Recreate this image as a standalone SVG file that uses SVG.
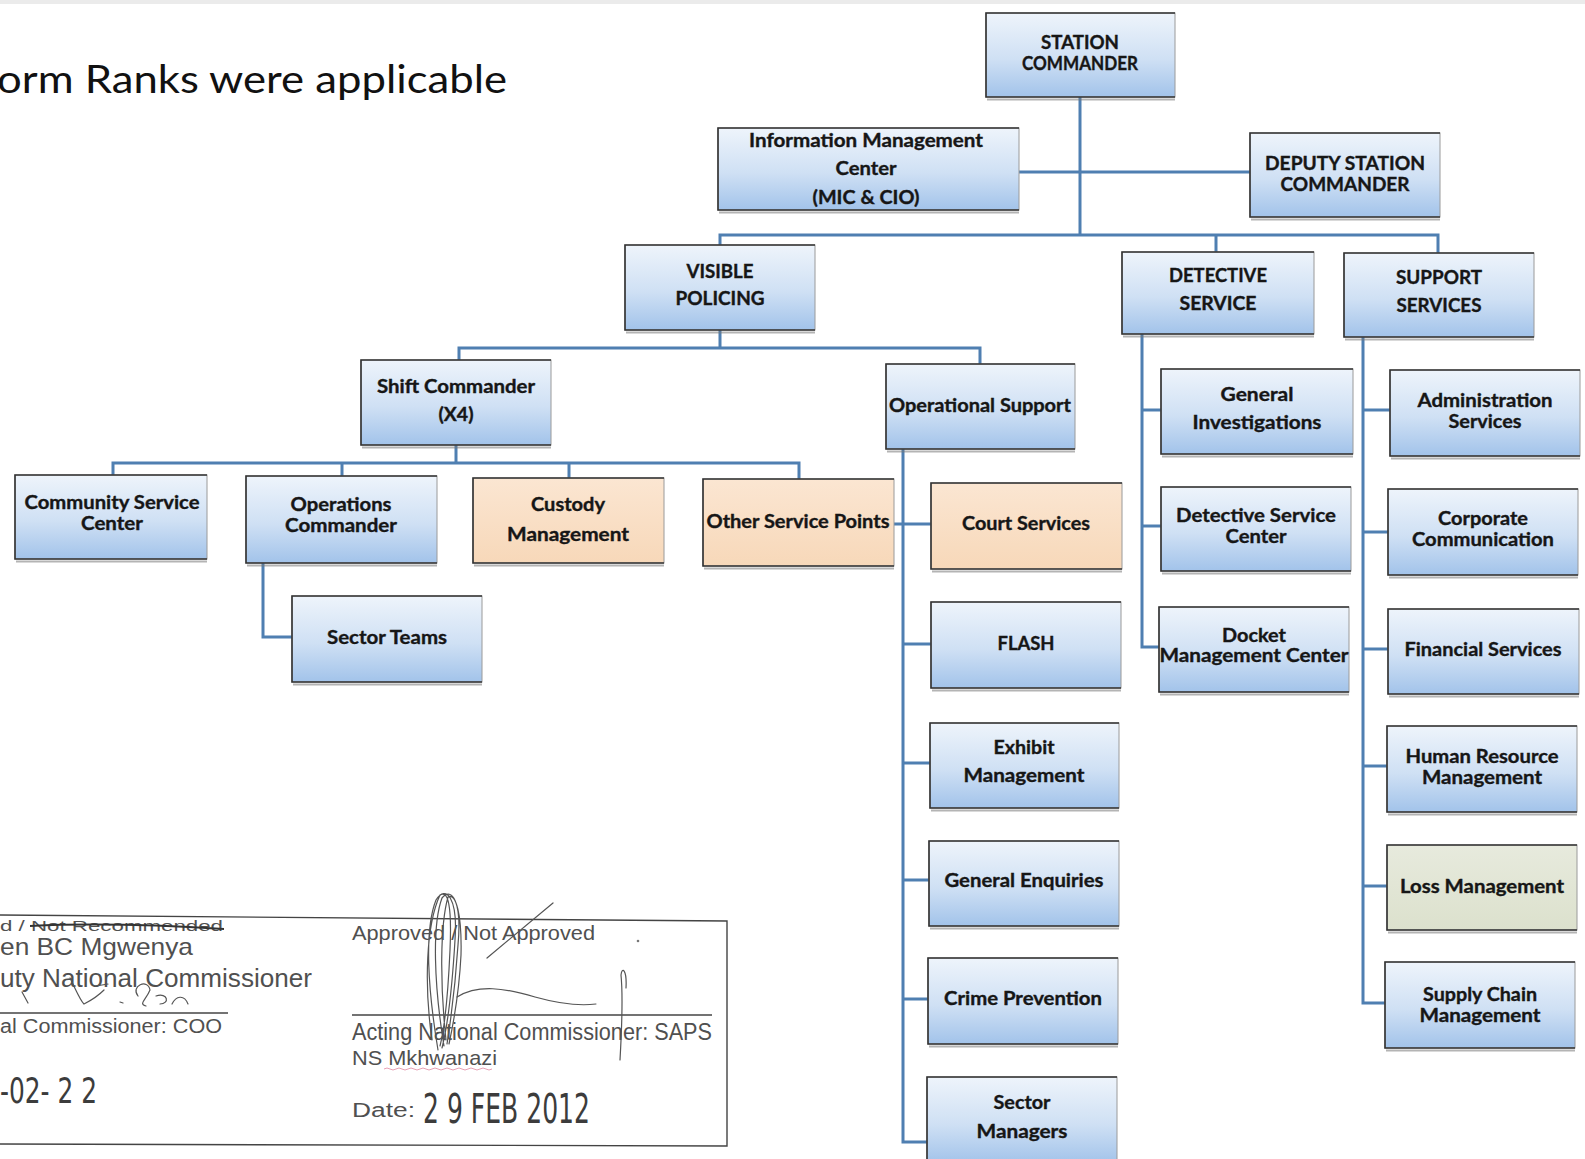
<svg xmlns="http://www.w3.org/2000/svg" width="1585" height="1159" viewBox="0 0 1585 1159">
  <style>
    .lbl { font-family: Lato, "Open Sans", "Liberation Sans", sans-serif; font-weight: 700; font-size: 18px; fill: #161616; stroke: #161616; stroke-width: 0.35px; text-anchor: middle; }
    .box { fill: url(#blue); stroke: #9a9a9a; stroke-width: 1; }
    .peach { fill: url(#peach); }
    .sage { fill: url(#sage); }
    .rim { fill: none; stroke: #333; stroke-width: 1.6; }
    .shade { fill: none; stroke: #777; stroke-width: 2.2; opacity: 0.55; }
    .wire { fill: none; stroke: #4f7fb1; stroke-width: 3; }
    .ink { font-family: "Liberation Sans", Arial, sans-serif; fill: #505050; }
    .stamp { font-family: "DejaVu Sans Condensed", "Liberation Sans", sans-serif; fill: #3c3c3c; }
    .pen { fill: none; stroke: #555; stroke-width: 1.2; stroke-linecap: round; }
  </style>
  <defs>
    <linearGradient id="blue" x1="0" y1="0" x2="0" y2="1">
      <stop offset="0" stop-color="#eef4fb"/>
      <stop offset="0.55" stop-color="#cfe0f4"/>
      <stop offset="1" stop-color="#a2c3ea"/>
    </linearGradient>
    <linearGradient id="peach" x1="0" y1="0" x2="0" y2="1">
      <stop offset="0" stop-color="#fbe6d2"/>
      <stop offset="1" stop-color="#f7d8b9"/>
    </linearGradient>
    <linearGradient id="sage" x1="0" y1="0" x2="0" y2="1">
      <stop offset="0" stop-color="#e7eadd"/>
      <stop offset="1" stop-color="#dce1cd"/>
    </linearGradient>
  </defs>

  <rect x="0" y="0" width="1585" height="1159" fill="#ffffff"/>
  <rect x="0" y="0" width="1585" height="4" fill="#ebebeb"/>

  <!-- heading, cut at the left edge -->
  <text x="-3" y="93" font-family="Lato, 'Open Sans', sans-serif" font-size="38" fill="#111" textLength="510" lengthAdjust="spacingAndGlyphs">orm Ranks were applicable</text>

  <!-- reporting lines -->
  <g id="connectors">
    <path class="wire" d="M1080,97 V235"/>
    <path class="wire" d="M1019,172 H1250"/>
    <path class="wire" d="M720,245 V235 H1438 V253"/>
    <path class="wire" d="M1216,235 V252"/>
    <path class="wire" d="M720,330 V348"/>
    <path class="wire" d="M459,360 V348 H980 V364"/>
    <path class="wire" d="M456,445 V463"/>
    <path class="wire" d="M113,475 V463 H799 V479"/>
    <path class="wire" d="M342,463 V476"/>
    <path class="wire" d="M569,463 V478"/>
    <path class="wire" d="M263,563 V637 H292"/>
    <path class="wire" d="M903,449 V1142 H927"/>
    <path class="wire" d="M894,524 H931"/>
    <path class="wire" d="M903,644 H931"/>
    <path class="wire" d="M903,763 H930"/>
    <path class="wire" d="M903,880 H929"/>
    <path class="wire" d="M903,999 H928"/>
    <path class="wire" d="M1142,334 V647 H1159"/>
    <path class="wire" d="M1142,410 H1161"/>
    <path class="wire" d="M1142,526 H1161"/>
    <path class="wire" d="M1363,337 V1003 H1385"/>
    <path class="wire" d="M1363,410 H1390"/>
    <path class="wire" d="M1363,532 H1388"/>
    <path class="wire" d="M1363,649 H1388"/>
    <path class="wire" d="M1363,766 H1387"/>
    <path class="wire" d="M1363,886 H1387"/>
  </g>

  <g id="n-station">
    <rect class="box" x="986" y="13" width="189" height="84"/>
    <path class="rim" d="M1175,13 H986 V97 H1175"/>
    <path class="shade" d="M987,99.5 H1175"/>
    <text class="lbl" x="1080" y="49" textLength="78" lengthAdjust="spacingAndGlyphs">STATION</text>
    <text class="lbl" x="1080" y="70" textLength="116" lengthAdjust="spacingAndGlyphs">COMMANDER</text>
  </g>

  <g id="n-imc">
    <rect class="box" x="718" y="128" width="301" height="82"/>
    <path class="rim" d="M1019,128 H718 V210 H1019"/>
    <path class="shade" d="M719,212.5 H1019"/>
    <text class="lbl" x="866" y="147" textLength="234" lengthAdjust="spacingAndGlyphs">Information Management</text>
    <text class="lbl" x="866" y="175" textLength="61" lengthAdjust="spacingAndGlyphs">Center</text>
    <text class="lbl" x="866" y="204" textLength="107" lengthAdjust="spacingAndGlyphs">(MIC &amp; CIO)</text>
  </g>

  <g id="n-deputy">
    <rect class="box" x="1250" y="133" width="190" height="84"/>
    <path class="rim" d="M1440,133 H1250 V217 H1440"/>
    <path class="shade" d="M1251,219.5 H1440"/>
    <text class="lbl" x="1345" y="170" textLength="160" lengthAdjust="spacingAndGlyphs">DEPUTY STATION</text>
    <text class="lbl" x="1345" y="191" textLength="129" lengthAdjust="spacingAndGlyphs">COMMANDER</text>
  </g>

  <g id="n-visible">
    <rect class="box" x="625" y="245" width="190" height="85"/>
    <path class="rim" d="M815,245 H625 V330 H815"/>
    <path class="shade" d="M626,332.5 H815"/>
    <text class="lbl" x="720" y="278" textLength="67" lengthAdjust="spacingAndGlyphs">VISIBLE</text>
    <text class="lbl" x="720" y="305" textLength="89" lengthAdjust="spacingAndGlyphs">POLICING</text>
  </g>

  <g id="n-detective">
    <rect class="box" x="1122" y="252" width="192" height="82"/>
    <path class="rim" d="M1314,252 H1122 V334 H1314"/>
    <path class="shade" d="M1123,336.5 H1314"/>
    <text class="lbl" x="1218" y="282" textLength="98" lengthAdjust="spacingAndGlyphs">DETECTIVE</text>
    <text class="lbl" x="1218" y="310" textLength="77" lengthAdjust="spacingAndGlyphs">SERVICE</text>
  </g>

  <g id="n-support">
    <rect class="box" x="1344" y="253" width="190" height="84"/>
    <path class="rim" d="M1534,253 H1344 V337 H1534"/>
    <path class="shade" d="M1345,339.5 H1534"/>
    <text class="lbl" x="1439" y="284" textLength="86" lengthAdjust="spacingAndGlyphs">SUPPORT</text>
    <text class="lbl" x="1439" y="312" textLength="85" lengthAdjust="spacingAndGlyphs">SERVICES</text>
  </g>

  <g id="n-shift">
    <rect class="box" x="361" y="360" width="190" height="85"/>
    <path class="rim" d="M551,360 H361 V445 H551"/>
    <path class="shade" d="M362,447.5 H551"/>
    <text class="lbl" x="456" y="393" textLength="158" lengthAdjust="spacingAndGlyphs">Shift Commander</text>
    <text class="lbl" x="456" y="421" textLength="35" lengthAdjust="spacingAndGlyphs">(X4)</text>
  </g>

  <g id="n-opsupport">
    <rect class="box" x="886" y="364" width="189" height="85"/>
    <path class="rim" d="M1075,364 H886 V449 H1075"/>
    <path class="shade" d="M887,451.5 H1075"/>
    <text class="lbl" x="980" y="412" textLength="182" lengthAdjust="spacingAndGlyphs">Operational Support</text>
  </g>

  <g id="n-geninv">
    <rect class="box" x="1161" y="369" width="192" height="85"/>
    <path class="rim" d="M1353,369 H1161 V454 H1353"/>
    <path class="shade" d="M1162,456.5 H1353"/>
    <text class="lbl" x="1257" y="401" textLength="73" lengthAdjust="spacingAndGlyphs">General</text>
    <text class="lbl" x="1257" y="429" textLength="129" lengthAdjust="spacingAndGlyphs">Investigations</text>
  </g>

  <g id="n-admin">
    <rect class="box" x="1390" y="370" width="190" height="86"/>
    <path class="rim" d="M1580,370 H1390 V456 H1580"/>
    <path class="shade" d="M1391,458.5 H1580"/>
    <text class="lbl" x="1485" y="407" textLength="135" lengthAdjust="spacingAndGlyphs">Administration</text>
    <text class="lbl" x="1485" y="428" textLength="73" lengthAdjust="spacingAndGlyphs">Services</text>
  </g>

  <g id="n-csc">
    <rect class="box" x="15" y="475" width="192" height="84"/>
    <path class="rim" d="M207,475 H15 V559 H207"/>
    <path class="shade" d="M16,561.5 H207"/>
    <text class="lbl" x="112" y="509" textLength="175" lengthAdjust="spacingAndGlyphs">Community Service</text>
    <text class="lbl" x="112" y="530" textLength="62" lengthAdjust="spacingAndGlyphs">Center</text>
  </g>

  <g id="n-opscmd">
    <rect class="box" x="246" y="476" width="191" height="87"/>
    <path class="rim" d="M437,476 H246 V563 H437"/>
    <path class="shade" d="M247,565.5 H437"/>
    <text class="lbl" x="341" y="511" textLength="101" lengthAdjust="spacingAndGlyphs">Operations</text>
    <text class="lbl" x="341" y="532" textLength="112" lengthAdjust="spacingAndGlyphs">Commander</text>
  </g>

  <g id="n-custody">
    <rect class="box peach" x="473" y="478" width="191" height="85"/>
    <path class="rim" d="M664,478 H473 V563 H664"/>
    <path class="shade" d="M474,565.5 H664"/>
    <text class="lbl" x="568" y="511" textLength="74" lengthAdjust="spacingAndGlyphs">Custody</text>
    <text class="lbl" x="568" y="541" textLength="122" lengthAdjust="spacingAndGlyphs">Management</text>
  </g>

  <g id="n-othersp">
    <rect class="box peach" x="703" y="479" width="191" height="87"/>
    <path class="rim" d="M894,479 H703 V566 H894"/>
    <path class="shade" d="M704,568.5 H894"/>
    <text class="lbl" x="798" y="528" textLength="183" lengthAdjust="spacingAndGlyphs">Other Service Points</text>
  </g>

  <g id="n-court">
    <rect class="box peach" x="931" y="483" width="191" height="86"/>
    <path class="rim" d="M1122,483 H931 V569 H1122"/>
    <path class="shade" d="M932,571.5 H1122"/>
    <text class="lbl" x="1026" y="530" textLength="128" lengthAdjust="spacingAndGlyphs">Court Services</text>
  </g>

  <g id="n-dsc">
    <rect class="box" x="1161" y="487" width="190" height="84"/>
    <path class="rim" d="M1351,487 H1161 V571 H1351"/>
    <path class="shade" d="M1162,573.5 H1351"/>
    <text class="lbl" x="1256" y="522" textLength="160" lengthAdjust="spacingAndGlyphs">Detective Service</text>
    <text class="lbl" x="1256" y="543" textLength="61" lengthAdjust="spacingAndGlyphs">Center</text>
  </g>

  <g id="n-corp">
    <rect class="box" x="1388" y="489" width="190" height="86"/>
    <path class="rim" d="M1578,489 H1388 V575 H1578"/>
    <path class="shade" d="M1389,577.5 H1578"/>
    <text class="lbl" x="1483" y="525" textLength="90" lengthAdjust="spacingAndGlyphs">Corporate</text>
    <text class="lbl" x="1483" y="546" textLength="142" lengthAdjust="spacingAndGlyphs">Communication</text>
  </g>

  <g id="n-sectorteams">
    <rect class="box" x="292" y="596" width="190" height="86"/>
    <path class="rim" d="M482,596 H292 V682 H482"/>
    <path class="shade" d="M293,684.5 H482"/>
    <text class="lbl" x="387" y="644" textLength="120" lengthAdjust="spacingAndGlyphs">Sector Teams</text>
  </g>

  <g id="n-flash">
    <rect class="box" x="931" y="602" width="190" height="86"/>
    <path class="rim" d="M1121,602 H931 V688 H1121"/>
    <path class="shade" d="M932,690.5 H1121"/>
    <text class="lbl" x="1026" y="650" textLength="57" lengthAdjust="spacingAndGlyphs">FLASH</text>
  </g>

  <g id="n-docket">
    <rect class="box" x="1159" y="607" width="190" height="85"/>
    <path class="rim" d="M1349,607 H1159 V692 H1349"/>
    <path class="shade" d="M1160,694.5 H1349"/>
    <text class="lbl" x="1254" y="642" textLength="64" lengthAdjust="spacingAndGlyphs">Docket</text>
    <text class="lbl" x="1254" y="662" textLength="189" lengthAdjust="spacingAndGlyphs">Management Center</text>
  </g>

  <g id="n-financial">
    <rect class="box" x="1388" y="609" width="191" height="85"/>
    <path class="rim" d="M1579,609 H1388 V694 H1579"/>
    <path class="shade" d="M1389,696.5 H1579"/>
    <text class="lbl" x="1483" y="656" textLength="157" lengthAdjust="spacingAndGlyphs">Financial Services</text>
  </g>

  <g id="n-exhibit">
    <rect class="box" x="930" y="723" width="189" height="85"/>
    <path class="rim" d="M1119,723 H930 V808 H1119"/>
    <path class="shade" d="M931,810.5 H1119"/>
    <text class="lbl" x="1024" y="754" textLength="61" lengthAdjust="spacingAndGlyphs">Exhibit</text>
    <text class="lbl" x="1024" y="782" textLength="121" lengthAdjust="spacingAndGlyphs">Management</text>
  </g>

  <g id="n-hr">
    <rect class="box" x="1387" y="726" width="190" height="86"/>
    <path class="rim" d="M1577,726 H1387 V812 H1577"/>
    <path class="shade" d="M1388,814.5 H1577"/>
    <text class="lbl" x="1482" y="763" textLength="153" lengthAdjust="spacingAndGlyphs">Human Resource</text>
    <text class="lbl" x="1482" y="784" textLength="120" lengthAdjust="spacingAndGlyphs">Management</text>
  </g>

  <g id="n-genenq">
    <rect class="box" x="929" y="841" width="190" height="85"/>
    <path class="rim" d="M1119,841 H929 V926 H1119"/>
    <path class="shade" d="M930,928.5 H1119"/>
    <text class="lbl" x="1024" y="887" textLength="159" lengthAdjust="spacingAndGlyphs">General Enquiries</text>
  </g>

  <g id="n-loss">
    <rect class="box sage" x="1387" y="845" width="190" height="85"/>
    <path class="rim" d="M1577,845 H1387 V930 H1577"/>
    <path class="shade" d="M1388,932.5 H1577"/>
    <text class="lbl" x="1482" y="893" textLength="164" lengthAdjust="spacingAndGlyphs">Loss Management</text>
  </g>

  <g id="n-crime">
    <rect class="box" x="928" y="958" width="190" height="86"/>
    <path class="rim" d="M1118,958 H928 V1044 H1118"/>
    <path class="shade" d="M929,1046.5 H1118"/>
    <text class="lbl" x="1023" y="1005" textLength="158" lengthAdjust="spacingAndGlyphs">Crime Prevention</text>
  </g>

  <g id="n-supply">
    <rect class="box" x="1385" y="962" width="190" height="86"/>
    <path class="rim" d="M1575,962 H1385 V1048 H1575"/>
    <path class="shade" d="M1386,1050.5 H1575"/>
    <text class="lbl" x="1480" y="1001" textLength="114" lengthAdjust="spacingAndGlyphs">Supply Chain</text>
    <text class="lbl" x="1480" y="1022" textLength="121" lengthAdjust="spacingAndGlyphs">Management</text>
  </g>

  <g id="n-sectormgr">
    <rect class="box" x="927" y="1077" width="190" height="86"/>
    <path class="rim" d="M1117,1077 H927 V1163"/>
    <text class="lbl" x="1022" y="1109" textLength="57" lengthAdjust="spacingAndGlyphs">Sector</text>
    <text class="lbl" x="1022" y="1138" textLength="91" lengthAdjust="spacingAndGlyphs">Managers</text>
  </g>

  <!-- approval block, cut at the left edge -->
  <g id="approval">
    <path d="M0,915 L727,921 V1146 L0,1144" fill="none" stroke="#444" stroke-width="1.4"/>

    <text class="ink" x="0" y="931" font-size="15" textLength="223" lengthAdjust="spacingAndGlyphs">d / Not Recommended</text>
    <path d="M30,926 C90,923 160,925 224,929" fill="none" stroke="#333" stroke-width="2"/>
    <text class="ink" x="0" y="955" font-size="24" fill="#777" textLength="193" lengthAdjust="spacingAndGlyphs">en BC Mgwenya</text>
    <text class="ink" x="0" y="987" font-size="25" fill="#666" textLength="312" lengthAdjust="spacingAndGlyphs">uty National Commissioner</text>
    <path class="pen" d="M22,992 L28,1003 M70,978 C76,990 80,1000 84,1004 C92,1000 100,994 104,990 M96,986 L108,984 M120,1002 L123,1003 M138,996 C130,986 148,978 150,990 C146,1000 138,1004 146,1006 M156,996 C168,992 170,1004 160,1004 M172,1004 C176,996 184,994 188,1004"/>
    <path d="M0,1013 H228" stroke="#444" stroke-width="1.4"/>
    <text class="ink" x="0" y="1033" font-size="20" textLength="222" lengthAdjust="spacingAndGlyphs">al Commissioner: COO</text>
    <text class="stamp" x="0" y="1103" font-size="36" textLength="97" lengthAdjust="spacingAndGlyphs">-02- 2 2</text>

    <text class="ink" x="352" y="940" font-size="21" textLength="243" lengthAdjust="spacingAndGlyphs">Approved / Not Approved</text>
    <path class="pen" d="M487,958 L553,903" stroke-width="1.4"/>
    <path d="M352,1015 H712" stroke="#444" stroke-width="1.4"/>
    <text class="ink" x="352" y="1040" font-size="23" textLength="360" lengthAdjust="spacingAndGlyphs">Acting National Commissioner: SAPS</text>
    <text class="ink" x="352" y="1065" font-size="21" textLength="145" lengthAdjust="spacingAndGlyphs">NS Mkhwanazi</text>
    <path d="M384,1069 q3,-2 6,0 t6,0 t6,0 t6,0 t6,0 t6,0 t6,0 t6,0 t6,0 t6,0 t6,0 t6,0 t6,0 t6,0 t6,0 t6,0 t6,0 t6,0" fill="none" stroke="#e8a0b4" stroke-width="1"/>
    <text class="ink" x="352" y="1117" font-size="20" textLength="63" lengthAdjust="spacingAndGlyphs">Date:</text>
    <text class="stamp" x="423" y="1123" font-size="40" textLength="167" lengthAdjust="spacingAndGlyphs">2 9 FEB 2012</text>

    <!-- signature strokes -->
    <path class="pen" d="M438,1050 C428,990 424,930 436,900 C446,884 458,898 455,940 C452,990 447,1028 442,1048 M444,1046 C434,985 432,925 442,898 C452,886 462,902 458,945 C455,990 450,1025 447,1044 M432,1040 C424,985 426,925 440,895 C448,890 452,905 450,950 C448,995 444,1030 440,1046 M446,1040 C440,985 440,925 448,897 C456,892 462,915 461,955 C459,995 452,1030 449,1044"/>
    <path class="pen" d="M457,997 C478,984 505,988 535,997 C560,1004 580,1006 596,1004"/>
    <path class="pen" d="M620,1060 C622,1025 623,995 621,975 C622,966 627,970 626,988"/>
    <circle cx="638" cy="941" r="1.3" fill="#777"/>
  </g>
</svg>
